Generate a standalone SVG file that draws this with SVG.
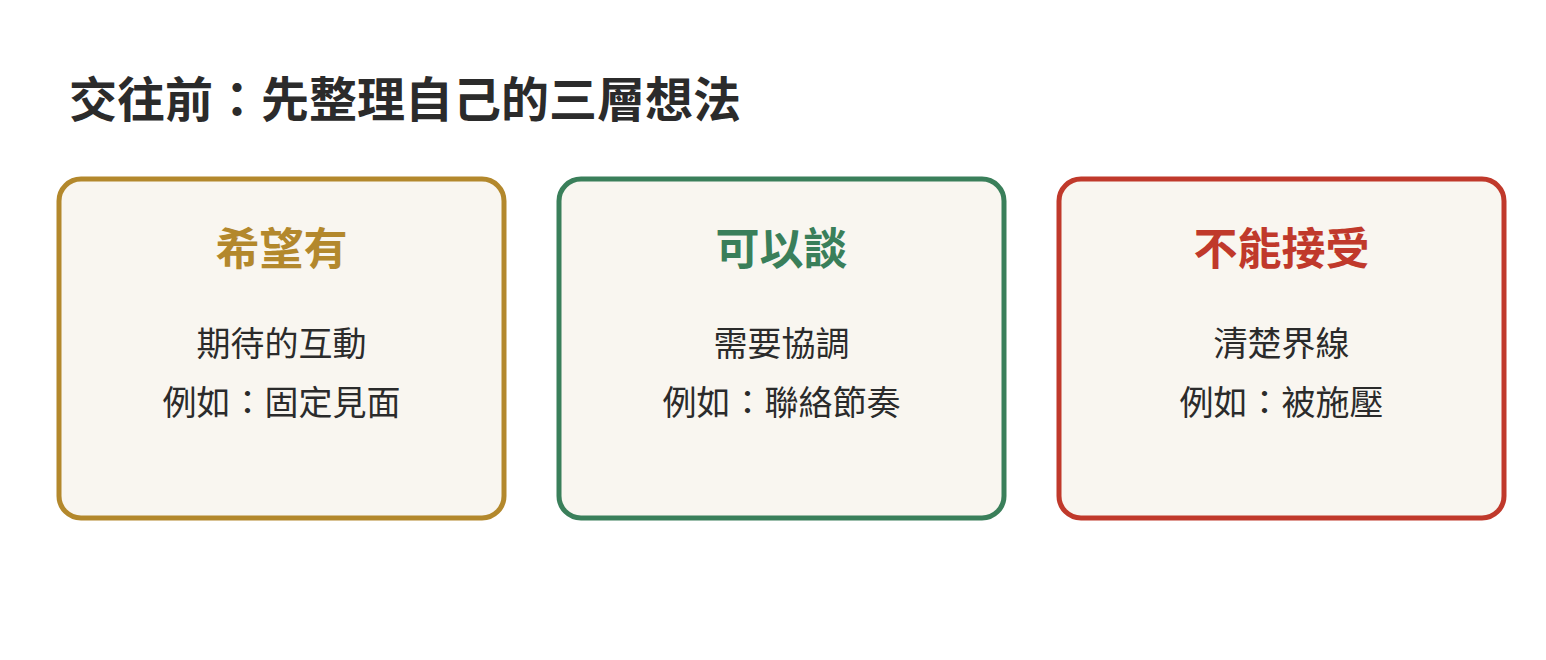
<svg xmlns="http://www.w3.org/2000/svg" width="1546" height="660" viewBox="0 0 1546 660">
<style>
text{font-family:"Noto Sans CJK TC","Noto Sans CJK SC",sans-serif;}
.title{font-size:48px;font-weight:700;fill:#2b2b2b;}
.card{fill:#F9F6F0;stroke-width:5;}
.head{font-size:44px;font-weight:700;text-anchor:middle;}
.body{font-size:34px;fill:#2b2b2b;text-anchor:middle;}
</style>
<rect width="1546" height="660" fill="#ffffff"/>
<text class="title" x="69" y="117">交往前：先整理自己的三層想法</text>
<g id="node-hope">
<rect class="card" x="59" y="179" width="445" height="339" rx="22" stroke="#B3882C"/>
<text class="head" x="281.5" y="265" fill="#B3882C">希望有</text>
<text class="body" x="281.5" y="356">期待的互動</text>
<text class="body" x="281.5" y="415">例如：固定見面</text>
</g>
<g id="node-talk">
<rect class="card" x="559" y="179" width="445" height="339" rx="22" stroke="#3A7F5A"/>
<text class="head" x="781.5" y="265" fill="#3A7F5A">可以談</text>
<text class="body" x="781.5" y="356">需要協調</text>
<text class="body" x="781.5" y="415">例如：聯絡節奏</text>
</g>
<g id="node-no">
<rect class="card" x="1059" y="179" width="445" height="339" rx="22" stroke="#C0392B"/>
<text class="head" x="1281.5" y="265" fill="#C0392B">不能接受</text>
<text class="body" x="1281.5" y="356">清楚界線</text>
<text class="body" x="1281.5" y="415">例如：被施壓</text>
</g>
<g id="connectors"></g>
</svg>
